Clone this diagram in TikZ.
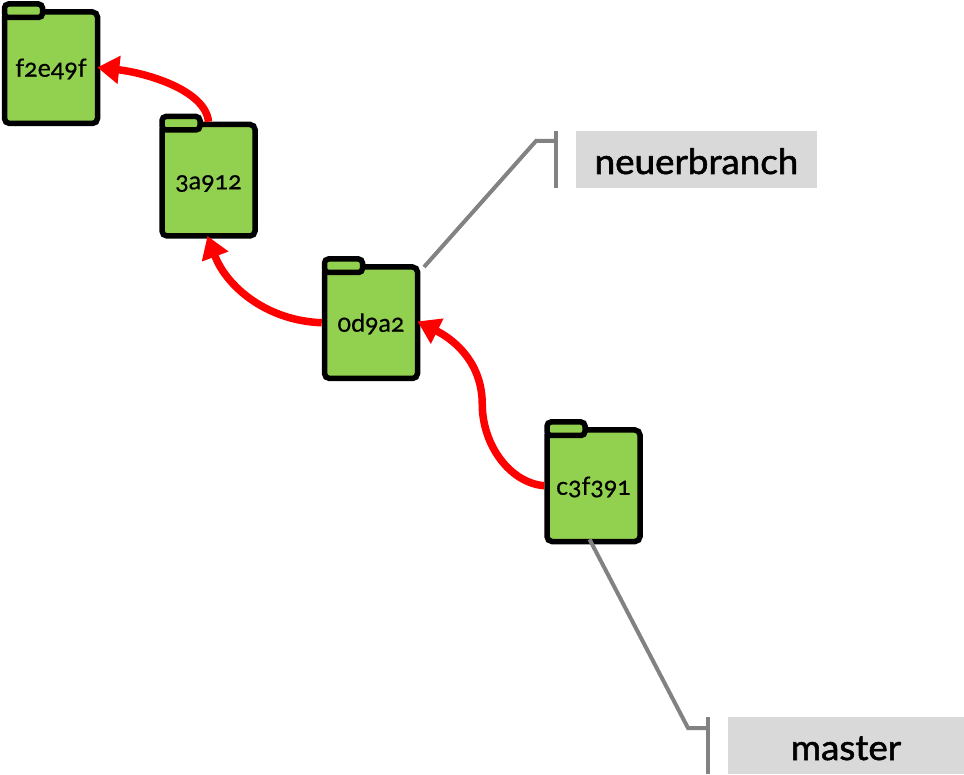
\documentclass[tikz,border=0pt]{standalone}
\usepackage{fontspec}
\setmainfont[Numbers=OldStyle]{Lato}
\newfontfamily\hashfont[Numbers=OldStyle,FakeBold=0.4]{Lato}
\newfontfamily\branchfont[FakeStretch=1.05,FakeBold=1.6]{Lato}
\usetikzlibrary{arrows.meta,calc}
\definecolor{foldergreen}{HTML}{92D050}
\definecolor{linkgrey}{HTML}{828282}
\definecolor{labelgrey}{HTML}{D9D9D9}
\tikzset{
  folderbody/.style={draw=black,fill=foldergreen,line width=5.5pt,rounded corners=5pt,minimum width=93pt,minimum height=111.5pt,outer sep=2.75pt,inner sep=0pt,font=\hashfont\fontsize{25}{28}\selectfont,text=black,text height=18pt,text depth=0pt},
  foldertab/.style={draw=black,fill=foldergreen,line width=5.5pt,rounded corners=4pt},
  parentlink/.style={draw=red,line width=7.5pt,shorten >=-3pt,-{Triangle[length=22pt,width=27pt]}},
  branchlink/.style={draw=linkgrey,line width=4pt},
  branchlabel/.style={fill=labelgrey,inner sep=0pt,font=\branchfont\fontsize{35}{38}\selectfont,text=black,text depth=0pt},
}
\newcommand{\folder}[4]{%
  \begin{scope}[shift={(#2,#3)}]
    \node[folderbody] (#1) at (51,67.75) {#4};
    \draw[foldertab] (4.5,4) rectangle (42.5,17.5);
  \end{scope}}
\begin{document}
\begin{tikzpicture}[x=1pt,y=-1pt]
\useasboundingbox (0,0) rectangle (964,775);
\folder{fa}{0}{0}{f2e49f}
\folder{fb}{157.5}{112.5}{3a912}
\folder{fc}{320}{255}{0d9a2}
\folder{fd}{542.5}{418}{c3f391}

\draw[parentlink] (fb.north) .. controls +(-3,-32) and +(45,5) .. (fa.east);
\draw[parentlink] (fc.west) .. controls +(-55,-2) and +(18,48) .. (fb.south);
\draw[parentlink] (fd.west) .. controls +(-35,-3) and +(0,40) .. ($(fd.west)!0.5!(fc.east)$) .. controls +(0,-40) and +(36,18) .. (fc.east);

\node[branchlabel,minimum width=241pt,minimum height=57pt,text height=29pt] (nb) at (696.5,159.5) {neuerbranch};
\node[branchlabel,minimum width=236pt,minimum height=57pt,text height=29pt] (ms) at (846,745.5) {master};

\coordinate (nbtop) at (556,131);
\coordinate (nbbot) at (556,188);
\coordinate (nbmid) at (556,141);
\coordinate (nbknee) at (536,141);
\coordinate (nbfree) at (424,267);
\coordinate (mstop) at (708,717);
\coordinate (msbot) at (708,774);
\coordinate (msmid) at (708,728);
\coordinate (msknee) at (688,728);

\draw[branchlink] (nbtop) -- (nbbot);
\draw[branchlink] (nbfree) -- (nbknee) -- (nbmid);
\draw[branchlink] (mstop) -- (msbot);
\draw[branchlink] ($(fd.south)+(-4,-5)$) -- (msknee) -- (msmid);
\end{tikzpicture}
\end{document}
